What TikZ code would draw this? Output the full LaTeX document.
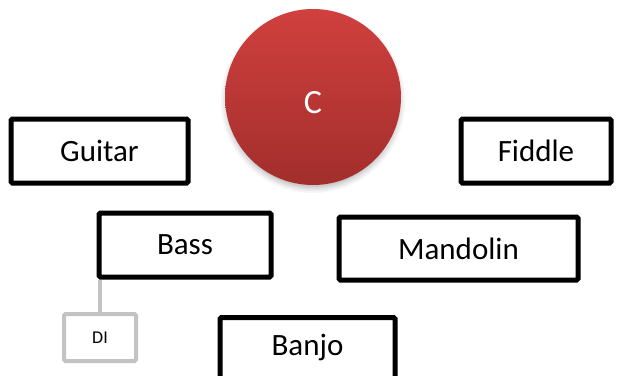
\documentclass[tikz,border=0pt]{standalone}
\usepackage{fontspec}
\setmainfont{Carlito}
\usetikzlibrary{shadows,calc}
\definecolor{redtop}{HTML}{D0403E}
\definecolor{redbot}{HTML}{A22E2C}
\definecolor{digray}{HTML}{C3C3C3}
\tikzset{
  box/.style={draw=black, line width=5pt, rounded corners=1.5pt, fill=white, inner sep=0pt,
    font=\fontsize{31}{37}\selectfont},
  dibox/.style={draw=digray, line width=4pt, rounded corners=1.5pt, fill=white, inner sep=0pt,
    font=\fontsize{18}{22}\selectfont},
  ball/.style={circle, inner sep=0pt, top color=redtop, bottom color=redbot, draw=none},
  link/.style={draw=digray, line width=4pt}
}
\begin{document}
\begin{tikzpicture}[x=1pt,y=-1pt]
\useasboundingbox (0,0) rectangle (629,375);
\clip (0,0) rectangle (629,375);
% shadow of the circle
\foreach \r/\o in {92/0.04,90/0.05,88/0.06,86/0.08}{
  \fill[black,opacity=\o] (313,101) circle[radius=\r];
}
\node[ball, minimum size=176pt] (C) at (313,97) {};
\node[text=white, font=\fontsize{34}{40}\selectfont] (Clabel) at (313,103) {C};
\node[box, minimum width=177pt, minimum height=64pt] (Guitar) at (99.5,151) {Guitar};
\node[box, minimum width=150pt, minimum height=64pt] (Fiddle) at (536,151) {Fiddle};
\node[box, minimum width=172pt, minimum height=64pt] (Bass) at (185,245) {Bass};
\node[box, minimum width=239pt, minimum height=63pt] (Mandolin) at (458.5,248.5) {Mandolin};
\node[box, minimum width=175pt, minimum height=66pt, anchor=north] (Banjo) at (307.5,315) {};
\node[font=\fontsize{31}{37}\selectfont] (Banjolabel) at (307.5,347) {Banjo};
\node[dibox, minimum width=72pt, minimum height=47pt] (DI) at (100,337.5) {DI};
\draw[link] (DI.north) -- (DI.north |- Bass.south);
\end{tikzpicture}
\end{document}
